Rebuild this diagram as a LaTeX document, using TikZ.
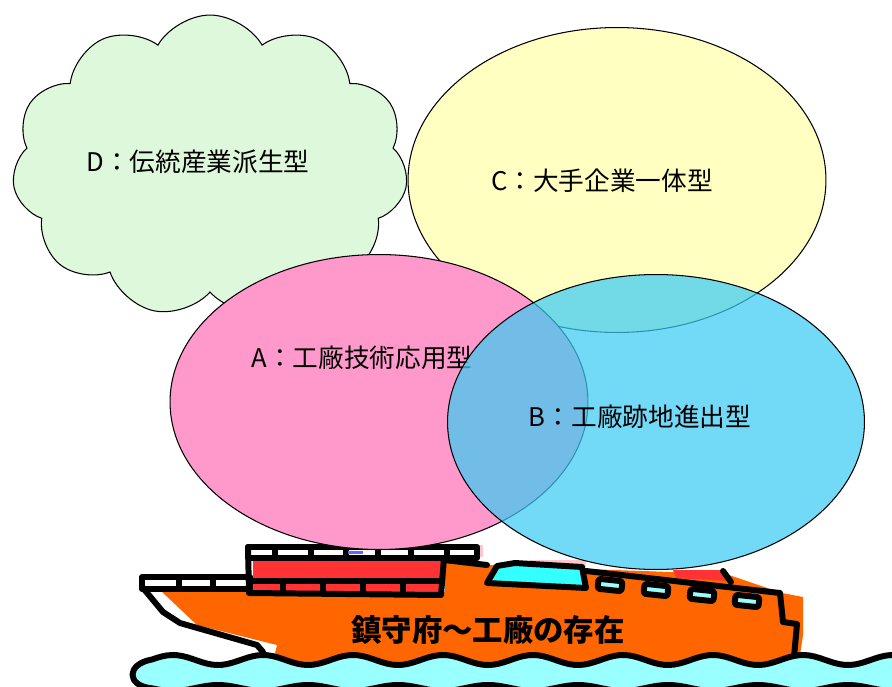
\documentclass[tikz,border=0pt]{standalone}
\usepackage{fontspec}
\setmainfont{Noto Sans CJK JP}
\usetikzlibrary{shapes.geometric, shapes.symbols}
\definecolor{cgreen}{HTML}{DDF8DA}
\definecolor{cyellow}{HTML}{FFFFC2}
\definecolor{cpink}{HTML}{FF99CC}
\definecolor{ccyan}{HTML}{3CCBF4}
\definecolor{corange}{HTML}{FF6600}
\definecolor{cred}{HTML}{FF3333}
\definecolor{cglass}{HTML}{33FFFF}
\definecolor{csea}{HTML}{99FFFF}
\definecolor{cblush}{HTML}{FFC4CC}
\tikzset{
  every picture/.style={line width=0.6pt},
  blob/.style={ellipse, draw=black, fill=#1, inner sep=0pt},
  lbl/.style={font=\fontsize{14.6}{17}\selectfont, inner sep=0pt},
  ink/.style={draw=black, line width=3.4pt, line join=round, line cap=round},
}

\begin{document}
\begin{tikzpicture}[x=0.02cm, y=-0.02cm]
  \useasboundingbox (0,0) rectangle (892,686);
  % D
  \node[cloud, cloud puffs=11, cloud puff arc=120, aspect=1.3, draw=black, fill=cgreen,
        minimum width=7.92cm, minimum height=6.04cm, inner sep=0pt] (D) at (210,166) {};
  \node[lbl] (labD) at (198,162) {D：伝統産業派生型};
  % C
  \node[blob=cyellow, minimum width=8.36cm, minimum height=6.1cm] (C) at (617,180) {};
  \node[lbl] (labC) at (602,181) {C：大手企業一体型};

  % ship: hull and superstructure
  \fill[corange] (162,592) -- (445,592) -- (445,560) -- (490,565) -- (586,569) -- (726,574)
    -- (782,593) -- (803,597) -- (803,635) -- (797,675) -- (270,675) -- (277,645) -- (197,625) -- cycle;
  \fill[cred] (253,560) -- (443,560) -- (440,592) -- (253,592) -- cycle;
  \fill[cblush] (477,545) rectangle (483,557);
  \fill[cblush] (530,560) rectangle (586,567);
  \fill[cred] (673,570) -- (722,570) -- (730,581) -- (676,578) -- cycle;
  % railings
  \draw[ink, fill=white] (248,547) rectangle (477,558);
  \foreach \x in {275,311,346,378,411,447}
    \draw[ink] (\x,547) -- (\x,558);
  \fill[blue!60] (348,551) rectangle (363,554);
  \draw[ink, fill=white] (142,577) rectangle (250,589);
  \foreach \x in {179,213}
    \draw[ink] (\x,577) -- (\x,589);
  % cabin
  \draw[ink] (248,547) -- (249,593) -- (441,595) -- (444,558);
  \draw[ink] (253,581) -- (441,581);
  \foreach \x in {283,323,363,403}
    \draw[ink] (\x,581) -- (\x,593);
  \draw[ink] (444,560) -- (487,565);
  \draw[ink, fill=cglass] (487,583) -- (497,566) -- (515,563) -- (582,567) -- (586,588) -- cycle;
  \draw[ink] (586,571) -- (780,593) -- (783,622) -- (797,624) -- (793,668);
  \draw[ink] (723,571) -- (731,582);
  \draw[ink] (143,588) -- (163,612) -- (180,623) -- (257,645) -- (263,652) -- (266,668);
  \foreach \x/\y in {610/585, 656/590, 702/595, 747/601}
    \draw[ink, fill=csea, rounded corners=1pt, rotate around={-6:(\x,\y)}] (\x-12,\y-5) rectangle (\x+12,\y+5);
  % sea
  \draw[ink, fill=csea] plot[domain=152:900, samples=150] (\x,{660-5*cos(4*(\x-263))})
    -- plot[domain=900:152, samples=150] (\x,{688-3*cos(4*(\x-218))})
    .. controls (126,686) and (126,664) .. cycle;
  \node[font=\fontsize{17.3}{20}\selectfont\bfseries] (ship) at (488,630) {鎮守府～工廠の存在};

  % A
  \node[blob=cpink, minimum width=8.36cm, minimum height=5.9cm] (A) at (379,402) {};
  \node[lbl] (labA) at (362,358) {A：工廠技術応用型};
  % B
  \node[blob=ccyan, fill opacity=0.72, minimum width=8.34cm, minimum height=5.9cm] (B) at (656,422) {};
  \node[lbl] (labB) at (640,417) {B：工廠跡地進出型};
\end{tikzpicture}
\end{document}
